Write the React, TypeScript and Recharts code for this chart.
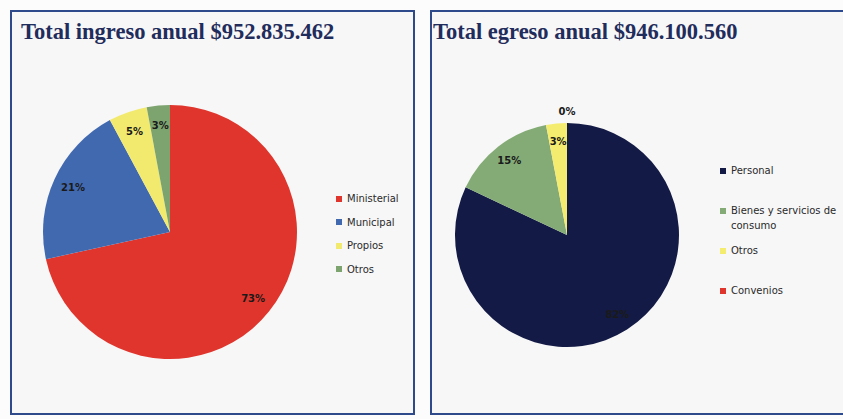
import { Legend, Pie, PieChart } from "recharts";

const ingresoNames = ["Ministerial", "Municipal", "Propios", "Otros"];
const ingresoValues = [73, 21, 5, 3];
const ingresoColors = ["#e0352c", "#4169b0", "#f2ea6e", "#7da36e"];

const egresoNames = ["Personal", "Bienes y servicios de consumo", "Otros", "Convenios"];
const egresoValues = [82, 15, 3, 0];
const egresoColors = ["#131a45", "#84ab76", "#f4ec6e", "#e0352c"];

const ingresoTitle = "Total ingreso anual $952.835.462";
const egresoTitle = "Total egreso anual $946.100.560";

const RAD = Math.PI / 180;

function makeData(names: string[], values: number[], colors: string[]) {
  return names.map((name, i) => ({ name, value: values[i], fill: colors[i] }));
}

const ingresoData = makeData(ingresoNames, ingresoValues, ingresoColors);
const egresoData = makeData(egresoNames, egresoValues, egresoColors);

function renderLabel(props: any) {
  const { cx, cy, midAngle, outerRadius, value } = props;
  const r = value === 0 ? outerRadius * 1.1 : outerRadius * 0.84;
  const x = cx + r * Math.cos(-midAngle * RAD);
  const y = cy + r * Math.sin(-midAngle * RAD);
  return (
    <text
      x={x}
      y={y}
      textAnchor="middle"
      dominantBaseline="central"
      fontSize={10}
      fontWeight="bold"
      fill="#1a1a1a"
      fontFamily="DejaVu Sans"
    >
      {value}%
    </text>
  );
}

// keep legend entries in data order (recharts sorts by name otherwise)
function makeLegend(names: string[], itemHeight: number) {
  return (props: any) => {
    const items = [...(props.payload || [])].sort(
      (a: any, b: any) => names.indexOf(a.value) - names.indexOf(b.value)
    );
    return (
      <div style={{ fontFamily: "DejaVu Sans", fontSize: 10, color: "#2a2a2a" }}>
        {items.map((p: any) => (
          <div
            key={p.value}
            style={{ display: "flex", alignItems: "flex-start", height: itemHeight, lineHeight: "15px" }}
          >
            <span
              style={{
                display: "inline-block",
                width: 6,
                height: 6,
                marginTop: 4.5,
                marginRight: 5,
                flex: "none",
                background: p.color,
              }}
            />
            <span>{p.value}</span>
          </div>
        ))}
      </div>
    );
  };
}

const titleStyle: React.CSSProperties = {
  position: "absolute",
  left: 9,
  top: 7,
  fontFamily: "Liberation Serif",
  fontWeight: "bold",
  fontSize: 22.5,
  color: "#1f2c5c",
  whiteSpace: "nowrap",
  zIndex: 2,
};

export default function App() {
  return (
    <div
      style={{
        position: "absolute",
        left: 0,
        top: 0,
        width: 843,
        height: 419,
        overflow: "hidden",
        background: "#fcfcfc",
      }}
    >
      <div
        style={{
          position: "absolute",
          left: 10,
          top: 10,
          width: 401,
          height: 401,
          border: "2px solid #2e4a8a",
          background: "#f7f7f7",
        }}
      >
        <div style={titleStyle}>{ingresoTitle}</div>
        <PieChart width={401} height={401}>
          <Pie
            data={ingresoData}
            dataKey="value"
            nameKey="name"
            cx={153}
            cy={215}
            outerRadius={127}
            startAngle={90}
            endAngle={-270}
            stroke="none"
            label={renderLabel}
            labelLine={false}
            isAnimationActive={false}
          />
          <Legend
            content={makeLegend(ingresoNames, 23.5)}
            wrapperStyle={{ position: "absolute", left: 324, top: 179, width: 80 }}
          />
        </PieChart>
      </div>
      <div
        style={{
          position: "absolute",
          left: 430,
          top: 10,
          width: 420,
          height: 401,
          border: "2px solid #2e4a8a",
          background: "#f7f7f7",
        }}
      >
        <div style={{ ...titleStyle, left: 1 }}>{egresoTitle}</div>
        <PieChart width={420} height={401}>
          <Pie
            data={egresoData}
            dataKey="value"
            nameKey="name"
            cx={130}
            cy={218}
            outerRadius={112}
            startAngle={90}
            endAngle={-270}
            stroke="none"
            label={renderLabel}
            labelLine={false}
            isAnimationActive={false}
          />
          <Legend
            content={makeLegend(egresoNames, 40)}
            wrapperStyle={{ position: "absolute", left: 288, top: 151, width: 122 }}
          />
        </PieChart>
      </div>
    </div>
  );
}
